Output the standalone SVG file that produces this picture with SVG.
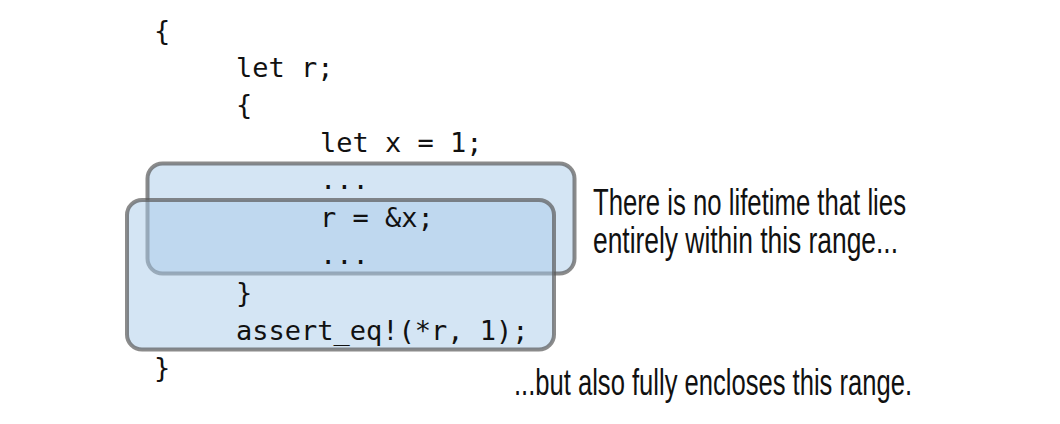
<svg xmlns="http://www.w3.org/2000/svg" width="1060" height="424" viewBox="0 0 1060 424">
  <style>
    .code { font-family: "DejaVu Sans Mono", "Liberation Mono", monospace; font-size: 27px; fill: #111; }
    .note { font-family: "Liberation Sans", Arial, sans-serif; font-size: 25px; fill: #111; }
    .range { fill: #a9cbe9; fill-opacity: 0.5; stroke: #5a5a5a; stroke-opacity: 0.7; stroke-width: 4; }
  </style>
  <rect width="1060" height="424" fill="#ffffff"/>
  <g id="range-inner">
    <rect class="range" x="147.5" y="163.5" width="427" height="110" rx="15"/>
  </g>
  <g id="range-outer">
    <rect class="range" x="127" y="200" width="427" height="149.5" rx="15"/>
  </g>
  <g id="code">
    <text class="code" x="154" y="40">{</text>
    <text class="code" x="236" y="77">let r;</text>
    <text class="code" x="236" y="114">{</text>
    <text class="code" x="320" y="152">let x = 1;</text>
    <text class="code" x="320" y="189">...</text>
    <text class="code" x="320" y="227">r = &amp;x;</text>
    <text class="code" x="320" y="264">...</text>
    <text class="code" x="236" y="302">}</text>
    <text class="code" x="236" y="340">assert_eq!(*r, 1);</text>
    <text class="code" x="154" y="377">}</text>
  </g>
  <g id="labels">
    <g transform="translate(593,215) scale(1,1.45)">
      <text class="note" x="0" y="0" textLength="313" lengthAdjust="spacingAndGlyphs">There is no lifetime that lies</text>
    </g>
    <g transform="translate(593,253) scale(1,1.45)">
      <text class="note" x="0" y="0" textLength="305" lengthAdjust="spacingAndGlyphs">entirely within this range...</text>
    </g>
    <g transform="translate(514,395) scale(1,1.45)">
      <text class="note" x="0" y="0" textLength="398" lengthAdjust="spacingAndGlyphs">...but also fully encloses this range.</text>
    </g>
  </g>
  <g id="connectors"/>
</svg>
